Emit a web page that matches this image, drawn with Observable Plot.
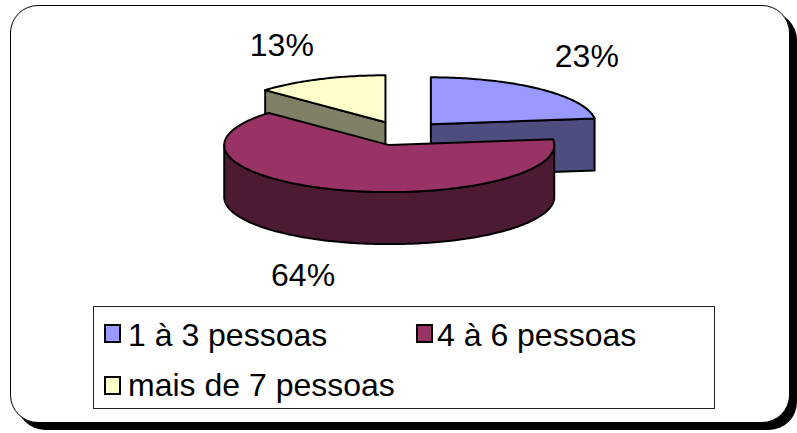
<!DOCTYPE html>
<html><head><meta charset="utf-8">
<script src="https://cdn.jsdelivr.net/npm/d3@7"></script>
<script src="https://cdn.jsdelivr.net/npm/@observablehq/plot@0.6"></script>
<style>
body{margin:0;background:#fff;}
#wrap{position:relative;width:797px;height:433px;overflow:hidden;font-family:"Liberation Sans",Arial,sans-serif;}
#frame{position:absolute;left:10px;top:5px;width:778px;height:416px;border:1.5px solid #000;border-radius:28px;box-shadow:7px 7px 0 0 #000;background:#fff;}
#chart{position:absolute;left:0;top:0;}
#legend{position:absolute;left:93px;top:306px;width:620px;height:101px;border:1px solid #222;background:#fff;}
.sw{position:absolute;width:13px;height:15px;border:2px solid #000;}
.lt{position:absolute;font-size:32px;line-height:32px;white-space:nowrap;color:#000;}
</style>
</head><body>
<div id="wrap"><div id="frame"></div><div id="chart"></div><div id="legend"></div></div>
<script>
const categories = ["1 à 3 pessoas", "4 à 6 pessoas", "mais de 7 pessoas"];
const values = [23, 64, 13];
const topColors = ["#9999FF", "#993366", "#FFFFCC"];
const sideColors = ["#4D4D80", "#4D1A33", "#808066"];

const W = 797, H = 300, cx = 402, cy = 133, rx = 165, ry = 47;
const depth = 52 / ry, explode = 0.26, deg = Math.PI / 180;
const total = d3.sum(values);
let acc = 0;
const slices = values.map((v, i) => {
  const a0 = acc / total * 2 * Math.PI; acc += v;
  const a1 = acc / total * 2 * Math.PI;
  const b = (a0 + a1) / 2;
  return {i, v, a0, a1, b, ox: explode * Math.sin(b), oy: explode * Math.cos(b)};
});
function arc(s, t0, t1, dz) {
  const n = Math.max(2, Math.ceil((t1 - t0) / deg));
  const pts = [];
  for (let k = 0; k <= n; k++) {
    const t = t0 + (t1 - t0) * k / n;
    pts.push({x: s.ox + Math.sin(t), y: s.oy + Math.cos(t) - dz});
  }
  return pts;
}
const parts = [];
const order = slices.slice().sort((p, q) => Math.cos(q.b) - Math.cos(p.b));
for (const s of order) {
  const c0 = {x: s.ox, y: s.oy}, c1 = {x: s.ox, y: s.oy - depth};
  const face = (t) => [c0, arc(s, t, t, 0)[0], arc(s, t, t, depth)[0], c1];
  if (Math.sin(s.a0) < -1e-6) parts.push({pts: face(s.a0), fill: sideColors[s.i]});
  if (Math.sin(s.a1) > 1e-6) parts.push({pts: face(s.a1), fill: sideColors[s.i]});
  const t0 = Math.max(s.a0, Math.PI / 2), t1 = Math.min(s.a1, 3 * Math.PI / 2);
  if (t1 > t0) parts.push({pts: [...arc(s, t0, t1, 0), ...arc(s, t0, t1, depth).reverse()], fill: sideColors[s.i]});
  parts.push({pts: [c0, ...arc(s, s.a0, s.a1, 0)], fill: topColors[s.i]});
}
const L = 1.2;
const labels = slices.map(s => {
  const sb = Math.sin(s.b), cb = Math.cos(s.b);
  return {
    x: s.ox + L * sb + Math.sign(sb) * 25 / rx,
    y: s.oy + L * cb + Math.sign(cb) * 25 / ry - (cb < 0 ? depth : 0),
    text: Math.round(s.v / total * 100) + "%"
  };
});
const chart = Plot.plot({
  width: W, height: H,
  marginTop: 0, marginRight: 0, marginBottom: 0, marginLeft: 0,
  style: {background: "transparent", fontFamily: "'Liberation Sans', Arial, sans-serif"},
  x: {domain: [-cx / rx, (W - cx) / rx], range: [0, W], axis: null},
  y: {domain: [cy / ry, (cy - H) / ry], range: [0, H], axis: null},
  marks: [
    ...parts.map(p => Plot.line(p.pts, {x: "x", y: "y", fill: p.fill, stroke: "#000", strokeWidth: 2, strokeLinejoin: "round", curve: "linear-closed"})),
    Plot.text(labels, {x: "x", y: "y", text: "text", fontSize: 32, fill: "#000"})
  ]
});
document.getElementById("chart").appendChild(chart);

const legend = document.getElementById("legend");
categories.forEach((c, i) => {
  const col = i % 2, row = Math.floor(i / 2);
  const sw = document.createElement("div");
  sw.className = "sw";
  sw.style.left = (10 + col * 312) + "px";
  sw.style.top = (17 + row * 52) + "px";
  sw.style.background = topColors[i];
  legend.appendChild(sw);
  const t = document.createElement("div");
  t.className = "lt";
  t.style.left = (34 + col * 309) + "px";
  t.style.top = (12 + row * 50) + "px";
  t.textContent = c;
  legend.appendChild(t);
});
</script>
</body></html>
